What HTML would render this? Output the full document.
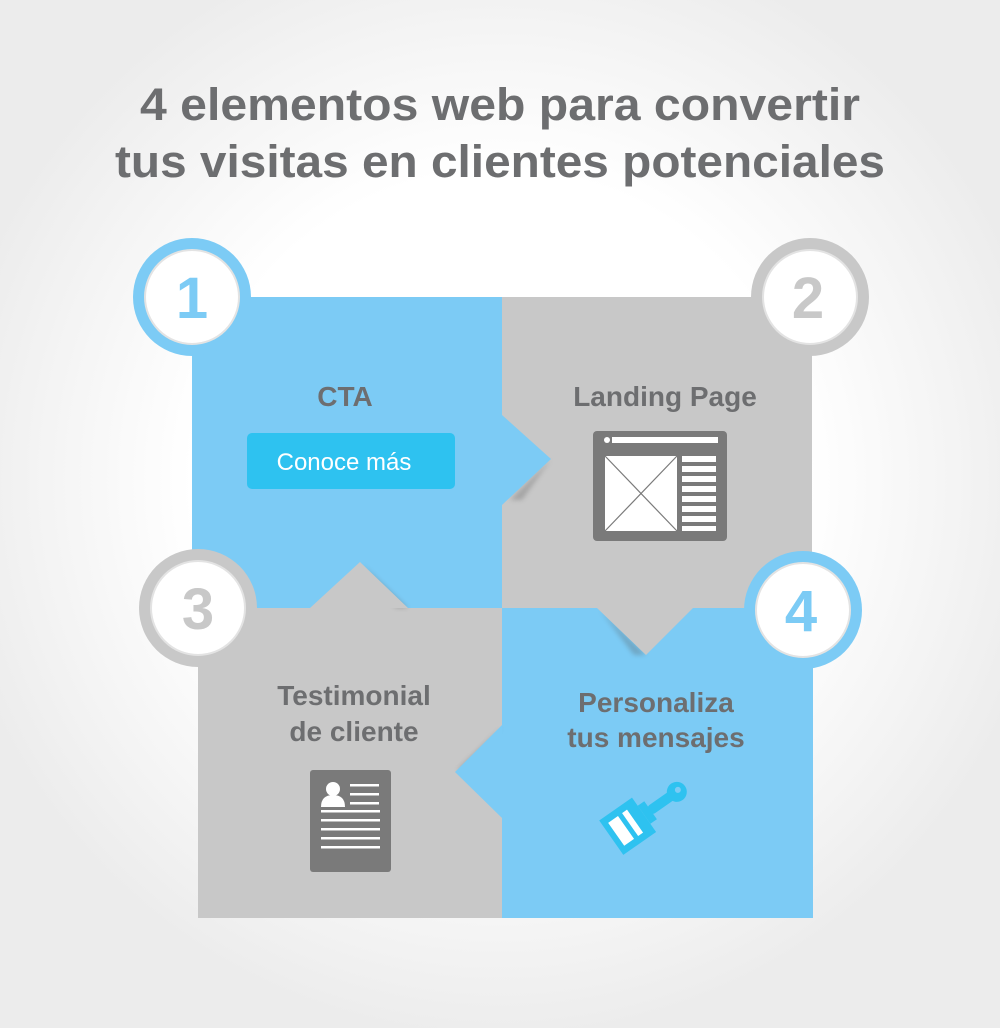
<!DOCTYPE html>
<html><head><meta charset="utf-8"><style>
html,body{margin:0;padding:0}
body{width:1000px;height:1028px;overflow:hidden;background:radial-gradient(ellipse 560px 560px at 500px 480px,#ffffff 55%,#ececec 100%);}
svg{position:absolute;left:0;top:0}
text{font-family:"Liberation Sans",sans-serif;font-weight:bold}
</style></head><body>
<svg width="1000" height="1028" viewBox="0 0 1000 1028">
<defs>
<filter id="sh" x="-30%" y="-30%" width="160%" height="160%"><feGaussianBlur stdDeviation="2.5"/></filter>
</defs>
<text x="500" y="120" font-size="45" fill="#6d6e70" text-anchor="middle" textLength="720" lengthAdjust="spacingAndGlyphs">4 elementos web para convertir</text>
<text x="500" y="177" font-size="45" fill="#6d6e70" text-anchor="middle" textLength="770" lengthAdjust="spacingAndGlyphs">tus visitas en clientes potenciales</text>

<!-- quadrants -->
<rect x="192" y="297" width="310" height="311" fill="#7ccbf5"/>
<rect x="502" y="297" width="310" height="311" fill="#c8c8c8"/>
<rect x="198" y="608" width="304" height="310" fill="#c8c8c8"/>
<rect x="502" y="608" width="311" height="310" fill="#7ccbf5"/>

<!-- arrows with shadows -->
<polygon points="551,459 510,500 522,500" fill="#666" opacity="0.35" filter="url(#sh)"/>
<polygon points="502,415 551,459 502,505" fill="#7ccbf5"/>
<polygon points="362,564 408,608 396,608" fill="#555" opacity="0.3" filter="url(#sh)"/>
<polygon points="310,608 360,562 408,608" fill="#c8c8c8"/>
<polygon points="600,610 646,655 634,655" fill="#555" opacity="0.3" filter="url(#sh)"/>
<polygon points="597,608 646,655 693,608" fill="#c8c8c8"/>
<polygon points="502,727 457,770 470,770" fill="#555" opacity="0.3" filter="url(#sh)"/>
<polygon points="502,725 455,772 502,818" fill="#7ccbf5"/>

<!-- circles -->
<g>
<circle cx="192" cy="297" r="59" fill="#7ccbf5"/>
<circle cx="192" cy="297" r="47" fill="#fff" stroke="#e3e3e3" stroke-width="2"/>
<text x="192" y="318" font-size="58" fill="#7ccbf5" text-anchor="middle">1</text>
<circle cx="810" cy="297" r="59" fill="#c8c8c8"/>
<circle cx="810" cy="297" r="47" fill="#fff" stroke="#e3e3e3" stroke-width="2"/>
<text x="808" y="318" font-size="58" fill="#c8c8c8" text-anchor="middle">2</text>
<circle cx="198" cy="608" r="59" fill="#c8c8c8"/>
<circle cx="198" cy="608" r="47" fill="#fff" stroke="#e3e3e3" stroke-width="2"/>
<text x="198" y="629" font-size="58" fill="#c8c8c8" text-anchor="middle">3</text>
<circle cx="803" cy="610" r="59" fill="#7ccbf5"/>
<circle cx="803" cy="610" r="47" fill="#fff" stroke="#e3e3e3" stroke-width="2"/>
<text x="801" y="631" font-size="58" fill="#7ccbf5" text-anchor="middle">4</text>
</g>

<!-- labels -->
<text x="345" y="406" font-size="28" fill="#6d6e70" text-anchor="middle">CTA</text>
<rect x="247" y="433" width="208" height="56" rx="5" fill="#2ec2f0"/>
<text x="344" y="470" font-size="24" fill="#fff" text-anchor="middle" style="font-weight:normal">Conoce más</text>
<text x="665" y="406" font-size="28" fill="#6d6e70" text-anchor="middle">Landing Page</text>
<text x="354" y="705" font-size="28" fill="#6d6e70" text-anchor="middle">Testimonial</text>
<text x="354" y="741" font-size="28" fill="#6d6e70" text-anchor="middle">de cliente</text>
<text x="656" y="712" font-size="28" fill="#6d6e70" text-anchor="middle">Personaliza</text>
<text x="656" y="747" font-size="28" fill="#6d6e70" text-anchor="middle">tus mensajes</text>

<!-- landing icon -->
<rect x="593" y="431" width="134" height="110" rx="4" fill="#7a7a7a"/>
<circle cx="607" cy="440" r="3" fill="#fff"/>
<rect x="612" y="437" width="106" height="6" fill="#fff"/>
<rect x="605" y="456" width="72" height="75" fill="#fff"/>
<line x1="605" y1="456" x2="677" y2="531" stroke="#7a7a7a" stroke-width="1.2"/>
<line x1="677" y1="456" x2="605" y2="531" stroke="#7a7a7a" stroke-width="1.2"/>
<g fill="#fff">
<rect x="682" y="456" width="34" height="6"/><rect x="682" y="466" width="34" height="6"/>
<rect x="682" y="476" width="34" height="6"/><rect x="682" y="486" width="34" height="6"/>
<rect x="682" y="496" width="34" height="6"/><rect x="682" y="506" width="34" height="6"/>
<rect x="682" y="516" width="34" height="6"/><rect x="682" y="526" width="34" height="5"/>
</g>

<!-- testimonial icon -->
<rect x="310" y="770" width="81" height="102" rx="3" fill="#7a7a7a"/>
<circle cx="333" cy="789" r="7" fill="#fff"/>
<path d="M321 807 Q321 795 333 795 Q345 795 345 807 Z" fill="#fff"/>
<g fill="#fff">
<rect x="350" y="784" width="29" height="2.5"/><rect x="350" y="793" width="29" height="2.5"/><rect x="350" y="802" width="29" height="2.5"/>
<rect x="321" y="810" width="59" height="2.5"/><rect x="321" y="819" width="59" height="2.5"/>
<rect x="321" y="828" width="59" height="2.5"/><rect x="321" y="837" width="59" height="2.5"/>
<rect x="321" y="846" width="59" height="2.5"/>
</g>

<!-- brush icon -->
<g transform="translate(632,822) rotate(-35)">
<rect x="-26" y="-20" width="40" height="42" fill="#2ec2f0"/>
<rect x="-20" y="-13" width="12" height="28" fill="#fff"/>
<rect x="-3" y="-13" width="6" height="28" fill="#fff"/>
<rect x="14" y="-10" width="8" height="22" fill="#2ec2f0"/>
<rect x="20" y="-4" width="30" height="10" rx="4" fill="#2ec2f0"/>
<circle cx="54" cy="1" r="10" fill="#2ec2f0"/>
<circle cx="56" cy="0" r="3" fill="#7ccbf5"/>
</g>
</svg>
</body></html>
